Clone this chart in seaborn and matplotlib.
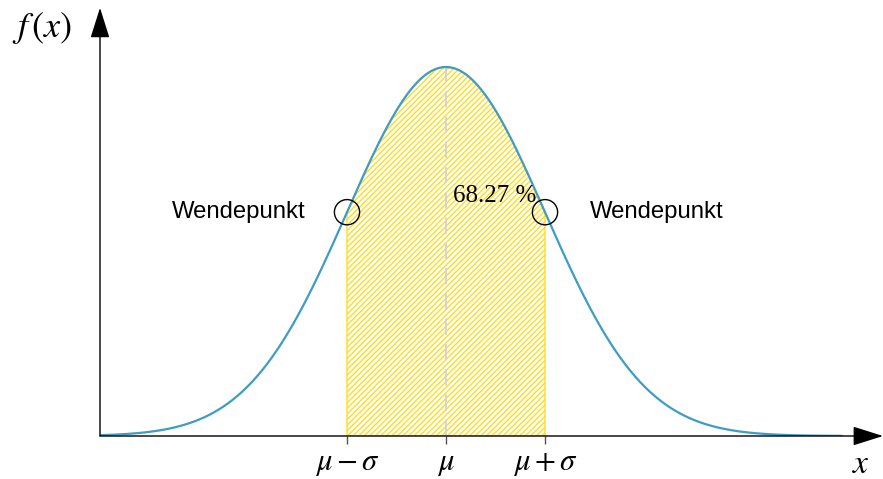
import numpy as np
import pandas as pd
import matplotlib
matplotlib.use("Agg")
import matplotlib.pyplot as plt
import seaborn as sns

# distribution parameters (standardised)
mu = 0.0
sigma = 1.0
x_range = [-3.495, 4.0]
tick_positions = [mu - sigma, mu, mu + sigma]
tick_labels = [r"$\mu-\sigma$", r"$\mu$", r"$\mu+\sigma$"]
inflection_x = [mu - sigma, mu + sigma]
share_label = "68.27 %"
inflection_label = "Wendepunkt"

sns.set_theme(style="white")
plt.rcParams["mathtext.fontset"] = "stix"
plt.rcParams["hatch.linewidth"] = 1.0

def density(x):
    return np.exp(-0.5 * ((x - mu) / sigma) ** 2) / (sigma * np.sqrt(2 * np.pi))

xs = np.linspace(x_range[0], x_range[1], 600)
df = pd.DataFrame({"x": xs, "f": density(xs)})

W, H = 883, 479
fig = plt.figure(figsize=(W / 100, H / 100), dpi=100)
ax = fig.add_axes([100 / W, 43 / H, (W - 100) / W, 436 / H])
ax.set_xlim(-3.495, 4.414)
ax.set_ylim(0, 0.4714)

# shaded one-sigma band
band = df[(df.x >= mu - sigma) & (df.x <= mu + sigma)]
bx = np.concatenate([[mu - sigma], band.x.values, [mu + sigma]])
by = np.concatenate([[density(mu - sigma)], band.f.values, [density(mu + sigma)]])
ax.fill_between(bx, 0, by, facecolor="none", edgecolor="#FFDD1E",
                hatch="//////", linewidth=1.0, zorder=1)

# mean line
ax.plot([mu, mu], [0, density(mu)], color="#D2D2D2", lw=1.3,
        dashes=(9, 5), zorder=2)

sns.lineplot(data=df, x="x", y="f", ax=ax, color="#3F9CC4", lw=1.6, zorder=3)

# inflection markers
ax.scatter(inflection_x, density(np.array(inflection_x)), s=330,
           facecolors="none", edgecolors="black", linewidths=1.0, zorder=4)

ax.text(mu - sigma - 0.42, density(mu - sigma), inflection_label,
        ha="right", va="center", fontsize=17.2, family="Liberation Sans",
        color="black")
ax.text(mu + sigma + 0.45, density(mu + sigma), inflection_label,
        ha="left", va="center", fontsize=17.2, family="Liberation Sans",
        color="black")
ax.text(mu + 0.07, density(mu + sigma) + 0.017, share_label,
        ha="left", va="center", fontsize=18, family="Liberation Serif",
        color="black")

for s in ax.spines.values():
    s.set_visible(False)

# axis arrows
arrow = dict(arrowstyle="-|>,head_length=1.9,head_width=0.6",
             mutation_scale=10, color="black", lw=1.0,
             shrinkA=0, shrinkB=0)
ax.annotate("", xy=(1.0, 0), xytext=(0, 0), xycoords="axes fraction",
            arrowprops=arrow, annotation_clip=False)
ax.annotate("", xy=(0, 0.982), xytext=(0, 0), xycoords="axes fraction",
            arrowprops=arrow, annotation_clip=False)

ax.text(-0.074, 0.936, r"$f\,(x)$", transform=ax.transAxes, ha="center",
        va="center", fontsize=26, color="black")
ax.text(0.972, -0.062, r"$x$", transform=ax.transAxes, ha="center",
        va="center", fontsize=24, color="black")

ax.set_xticks(tick_positions)
ax.set_xticklabels(tick_labels, fontsize=22, color="black")
ax.tick_params(axis="x", bottom=True, direction="out", length=6,
               width=1, color="#555555", pad=3)
ax.set_yticks([])
ax.set_xlabel("")
ax.set_ylabel("")

fig.savefig("out.png", dpi=100)
